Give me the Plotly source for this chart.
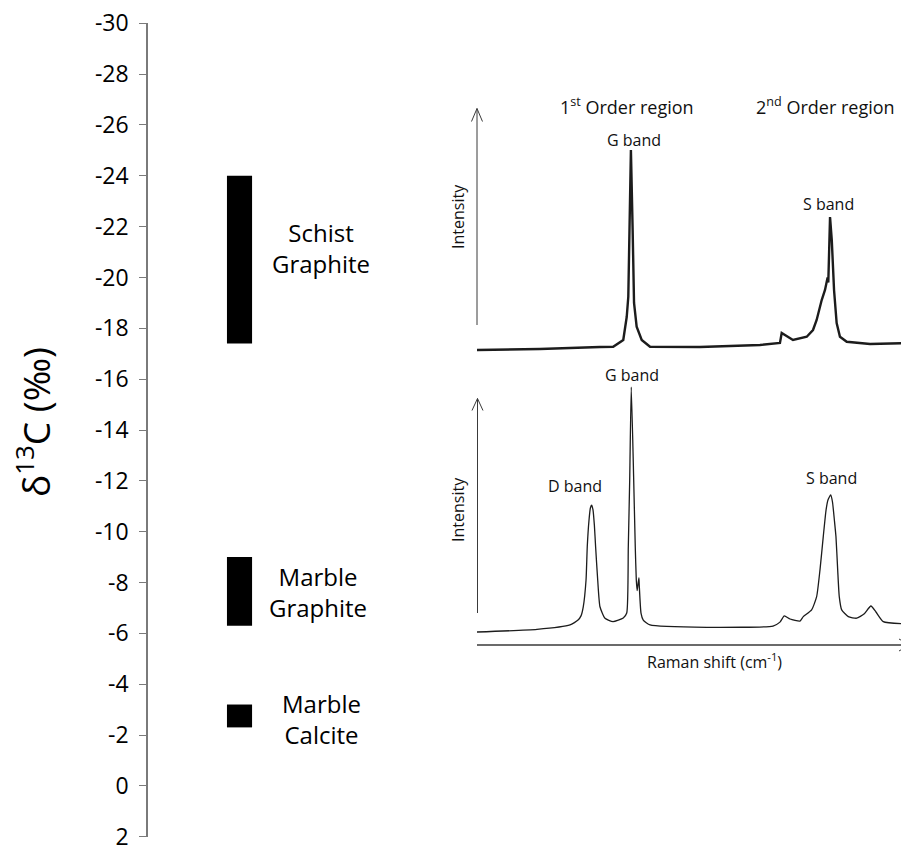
import plotly.graph_objects as go

# ---------------- Left panel: d13C ranges ----------------
sample_names = ["Schist<br>Graphite", "Marble<br>Graphite", "Marble<br>Calcite"]
d13c_min = [-24.0, -9.0, -3.2]     # most negative value (top of bar)
d13c_max = [-17.4, -6.3, -2.3]     # least negative value (bottom of bar)
tick_values = [-30, -28, -26, -24, -22, -20, -18, -16, -14, -12, -10, -8, -6, -4, -2, 0, 2]
tick_labels = ["-30", "-28", "-26", "-24", "-22", "-20", "-18", "-16", "-14",
               "-12", "-10", "-8", "-6", "-4", "-2", "0", "2"]

# ---------------- Right panel: Raman spectra (cm-1, arbitrary intensity) ----------------
top_shift = [689, 1051, 1396, 1472, 1530, 1550, 1559, 1564, 1574, 1584, 1592, 1607, 1636,
             1684, 1971, 2316, 2431, 2441, 2506, 2585, 2621, 2642, 2671, 2690, 2700, 2705,
             2709, 2714, 2719, 2729, 2742, 2757, 2776, 2815, 2949, 3173]
top_intensity = [2.0, 2.4, 3.2, 3.3, 6.0, 15.3, 23.3, 50.0, 82.0, 50.0, 20.8, 11.3, 6.0,
                 3.3, 3.2, 4.0, 4.8, 8.8, 6.0, 7.3, 10.0, 14.0, 22.0, 26.0, 30.0, 31.0,
                 29.0, 42.0, 55.2, 46.0, 26.0, 12.8, 7.3, 5.3, 4.4, 4.8]

bottom_shift = [689, 1034, 1224, 1270, 1287, 1300, 1316, 1323, 1333, 1341, 1348, 1356, 1364,
                1371, 1383, 1396, 1425, 1471, 1530, 1550, 1559, 1567, 1576, 1590, 1599, 1605,
                1610, 1616, 1620, 1622, 1632, 1645, 1684, 2010, 2391, 2431, 2456, 2489, 2546,
                2565, 2613, 2642, 2661, 2680, 2696, 2707, 2723, 2733, 2744, 2753, 2763, 2772,
                2786, 2824, 2872, 2914, 2954, 2983, 3025, 3173]
bottom_intensity = [5.0, 6.0, 7.7, 9.6, 11.2, 14.7, 25.0, 37.8, 48.0, 52.7, 53.8, 52.0, 46.0,
                    37.8, 25.0, 14.7, 10.3, 9.0, 10.4, 12.3, 37.8, 63.5, 99.2, 63.5, 37.8, 25.0,
                    20.9, 24.0, 25.8, 23.0, 12.3, 9.6, 7.7, 6.8, 7.3, 8.8, 11.2, 10.0, 9.2,
                    10.9, 13.5, 18.6, 28.8, 41.7, 51.9, 55.8, 57.7, 55.0, 48.0, 41.7, 28.8, 18.6,
                    13.5, 10.9, 10.3, 11.9, 15.0, 12.7, 9.0, 8.1]

W, H = 909, 852
OFF = 8   # page body margin offset
FONT = "Open Sans"


def px(x):
    return (x - OFF) / W


def py(y):
    return 1 - (y - OFF) / H


fig = go.Figure()

# bars: span from d13c_min to d13c_max
fig.add_trace(go.Bar(
    x=["d13C"] * len(sample_names),
    base=d13c_min,
    y=[hi - lo for lo, hi in zip(d13c_min, d13c_max)],
    width=0.86,
    marker=dict(color="black", line=dict(width=0)),
    hovertext=[s.replace("<br>", " ") for s in sample_names],
    showlegend=False,
    xaxis="x", yaxis="y",
))

# spectra
fig.add_trace(go.Scatter(x=top_shift, y=top_intensity, mode="lines",
                         line=dict(color="#1c1c1c", width=2.4),
                         showlegend=False, xaxis="x2", yaxis="y2"))
fig.add_trace(go.Scatter(x=bottom_shift, y=bottom_intensity, mode="lines",
                         line=dict(color="#1c1c1c", width=1.3, shape="spline", smoothing=0.5),
                         showlegend=False, xaxis="x3", yaxis="y3"))

annotations = []
# axis title
annotations.append(dict(text="δ<sup>13</sup>C (‰)", x=px(33), y=py(422), xref="paper", yref="paper",
                        showarrow=False, textangle=-90, font=dict(family=FONT, size=37, color="black"),
                        xanchor="center", yanchor="middle"))
# bar labels
label_pos = [(321, 248), (318, 592), (321, 719)]
for name, (lx, ly) in zip(sample_names, label_pos):
    annotations.append(dict(text=name, x=px(lx), y=py(ly), xref="paper", yref="paper",
                            showarrow=False, font=dict(family=FONT, size=24, color="black"),
                            xanchor="center", yanchor="middle", align="center"))

# spectrum labels
small = dict(family=FONT, size=16, color="#111")
mid = dict(family=FONT, size=18, color="#111")
texts = [
    ("1<sup>st</sup> Order region", 627, 106, mid, 0),
    ("2<sup>nd</sup> Order region", 825, 106, mid, 0),
    ("G band", 634, 140, small, 0),
    ("S band", 828, 204, small, 0),
    ("Intensity", 458, 217, small, -90),
    ("G band", 632, 375, small, 0),
    ("D band", 575, 486, small, 0),
    ("S band", 831, 478, small, 0),
    ("Intensity", 458, 510, small, -90),
    ("Raman shift (cm<sup>-1</sup>)", 714, 661, small, 0),
]
for t, x, y, f, ang in texts:
    annotations.append(dict(text=t, x=px(x), y=py(y), xref="paper", yref="paper",
                            showarrow=False, font=f, textangle=ang,
                            xanchor="center", yanchor="middle"))

# axis arrows of the spectra (drawn as shapes)
ARROW = "#3a3a3a"
shapes = []


def add_line(x0, y0, x1, y1, width):
    shapes.append(dict(type="line", xref="paper", yref="paper",
                       x0=px(x0), y0=py(y0), x1=px(x1), y1=py(y1),
                       line=dict(color=ARROW, width=width)))


def add_head(points, width):
    path = "M " + " L ".join(f"{px(a):.5f},{py(b):.5f}" for a, b in points)
    shapes.append(dict(type="path", xref="paper", yref="paper", path=path,
                       line=dict(color=ARROW, width=width)))


# top vertical arrow
add_line(477, 325, 477, 108.5, 1)
add_head([(471.5, 121.5), (477, 108.5), (482.5, 121.5)], 1)
# bottom vertical arrow
add_line(477.5, 613, 477.5, 398.5, 1)
add_head([(472, 410.5), (477.5, 398.5), (483, 410.5)], 1)
# horizontal arrow
add_line(477, 645, 908, 645, 1.5)
add_head([(899, 639), (909.5, 645), (899, 651)], 1)

fig.update_layout(
    width=W, height=H,
    margin=dict(l=0, r=0, t=0, b=0, autoexpand=False),
    paper_bgcolor="white", plot_bgcolor="white",
    barmode="overlay",
    annotations=annotations,
    shapes=shapes,
    xaxis=dict(domain=[px(148), px(440)], range=[-3.134, 6.866], visible=False,
               type="category", anchor="y", fixedrange=True, automargin=False),
    yaxis=dict(domain=[py(836.7), py(23.3)], range=[2, -30], anchor="x",
               tickvals=tick_values, ticktext=tick_labels, automargin=False,
               ticklabeloverflow="allow",
               ticks="outside", ticklen=7, tickwidth=1, tickcolor="#7a7a7a",
               showline=True, linecolor="#7a7a7a", linewidth=1.5,
               showgrid=False, zeroline=False, ticklabelstandoff=6,
               tickfont=dict(family=FONT, size=23, color="black")),
    xaxis2=dict(domain=[px(477), px(909)], range=[689, 3173], visible=False, anchor="y2"),
    yaxis2=dict(domain=[py(355), py(105)], range=[0, 100], visible=False, anchor="x2"),
    xaxis3=dict(domain=[px(477), px(909)], range=[689, 3173], visible=False, anchor="y3"),
    yaxis3=dict(domain=[py(645), py(385)], range=[0, 100], visible=False, anchor="x3"),
)

fig.write_html("out.html")
